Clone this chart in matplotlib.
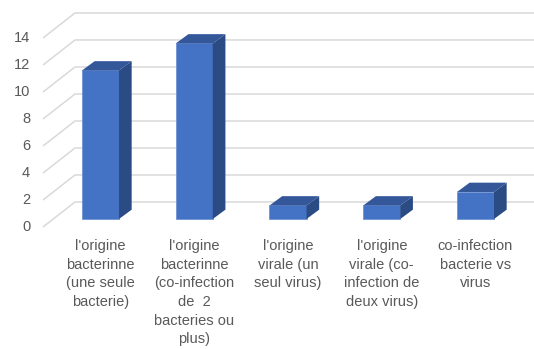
import numpy as np
import matplotlib.pyplot as plt

plt.rcParams['font.family'] = ['Liberation Sans', 'DejaVu Sans']

categories = ["l'origine\nbacterinne\n(une seule\nbacterie)",
              "l'origine\nbacterinne\n(co-infection\nde  2\nbacteries ou\nplus)",
              "l'origine\nvirale (un\nseul virus)",
              "l'origine\nvirale (co-\ninfection de\ndeux virus)",
              "co-infection\nbacterie vs\nvirus"]
values = [11, 13, 1, 1, 2]
y_ticks = [0, 2, 4, 6, 8, 10, 12, 14]

fig = plt.figure(figsize=(5.34, 3.49), dpi=100)
ax = fig.add_axes([0, 0, 1, 1])
ax.set_xlim(-1.072, 4.624)
ax.set_ylim(-9.63, 16.22)
ax.axis('off')

# fake oblique 3d: floor front / back offsets and bar depth (data units)
fl_x, fl_y = -0.613, -0.593
wall_x, wall_y = -0.272, 1.259
bar_dx, bar_dy = 0.135, 0.69
w = 0.395

# gridlines on back wall + diagonals on the side wall
for v in y_ticks:
    ax.plot([fl_x, wall_x, 4.7], [v + fl_y, v + wall_y, v + wall_y],
            color='#d9d9d9', lw=1.1, zorder=1, solid_capstyle='butt')
    ax.text(-0.75, v + fl_y, str(v), ha='right', va='center',
            fontsize=10.5, color='#595959')

x = np.arange(len(values))
ax.bar(x, values, width=w, color='#4472C4', edgecolor='#6f93d3', lw=0.6, zorder=3)
for xi, v in zip(x, values):
    l, r = xi - w / 2, xi + w / 2
    # top face
    ax.fill([l, r, r + bar_dx, l + bar_dx], [v, v, v + bar_dy, v + bar_dy],
            color='#34579a', zorder=3, lw=0)
    # side face
    ax.fill([r, r + bar_dx, r + bar_dx, r], [0, bar_dy, v + bar_dy, v],
            color='#2b4b85', zorder=3, lw=0)

for xi, cat in zip(x, categories):
    ax.text(xi, -1.5, cat, ha='center', va='top', fontsize=10.5,
            color='#595959', linespacing=1.42)

fig.savefig('out.png', dpi=100)
